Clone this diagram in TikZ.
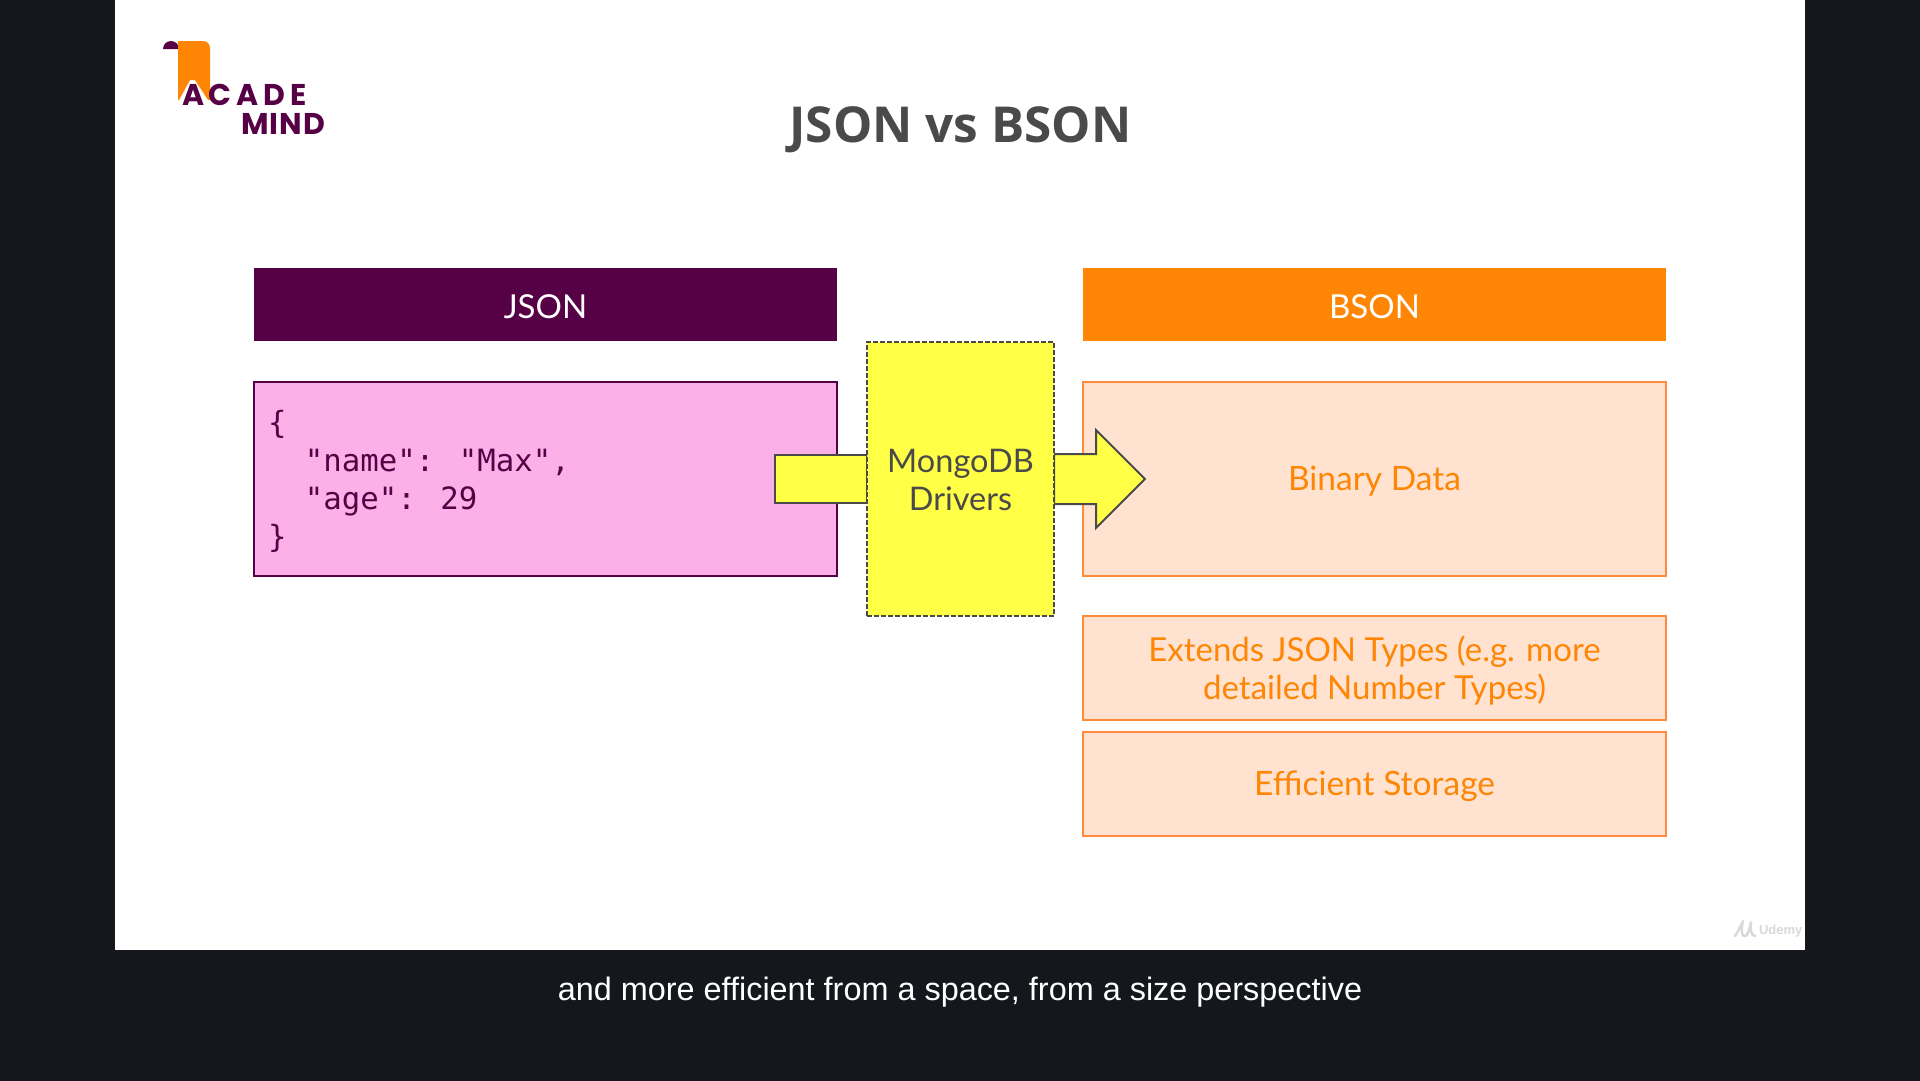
\documentclass[tikz,border=0pt]{standalone}
\usepackage{fontspec}
\usepackage{xcolor}
\usetikzlibrary{
  positioning,
  shapes.arrows
}
\setmainfont{Lato}
\newfontfamily\titlefont{Open Sans}
\newfontfamily\codefont{DejaVu Sans Mono}
\newfontfamily\capfont{Liberation Sans}
\newfontfamily\logofonta[LetterSpace=16]{Poppins}
\newfontfamily\logofontb[LetterSpace=4]{Poppins}
\definecolor{slidebg}{HTML}{14171C}
\definecolor{plum}{HTML}{560046}
\definecolor{tangerine}{HTML}{FF8605}
\definecolor{pinkfill}{HTML}{FBB1E8}
\definecolor{peachfill}{HTML}{FFE3D0}
\definecolor{peachline}{HTML}{FF8B3A}
\definecolor{lemon}{HTML}{FFFF45}
\definecolor{slate}{HTML}{4A4A4A}

\begin{document}
\begin{tikzpicture}[
    x=1pt, y=-1pt,
    every node/.style = {shape=rectangle, align=center, inner sep=0pt, outer sep=0pt},
    head/.style = {minimum width=583pt, minimum height=73pt, text=white, text height=27pt, text depth=0pt,
      font=\fontsize{33}{38}\selectfont},
    bsonbox/.style = {draw=peachline, line width=1.8pt, fill=peachfill, text=tangerine,
      minimum width=583pt, font=\fontsize{33.5}{38}\selectfont},
    blockline/.style = {draw=slate, line width=2pt, fill=lemon}]
    \useasboundingbox (0,0) rectangle (1920,1080);
    % page and slide
    \fill[slidebg] (-5,-5) rectangle (1925,1085);
    \fill[white] (115,0) rectangle (1805,950);
    % logo
    \fill[plum] (163,49) arc[start angle=180, end angle=0, x radius=8pt, y radius=8pt] -- cycle;
    \fill[tangerine] (178,41) -- (198,41) [rounded corners=7pt] -- (210,41) [sharp corners] -- (210,100)
      -- (208,100) -- (195,80) -- (190,80) -- (179,100) -- (178,100) -- cycle;
    \node[anchor=base west, text=plum, font=\logofonta\fontsize{30}{30}\selectfont\bfseries] (logoa) at (182,105) {ACADE};
    \node[anchor=base west, text=plum, font=\logofontb\fontsize{30}{30}\selectfont\bfseries] (logob) at (241,134) {MIND};
    % title
    \node[text=slate, font=\titlefont\fontsize{49.5}{52}\selectfont\bfseries] (title) at (960.5,130) {JSON vs BSON};
    % left column
    \node[head, fill=plum, anchor=north west] (jsonhead) at (254,268) {JSON};
    \node[draw=plum, line width=2pt, fill=pinkfill, minimum width=583pt, minimum height=194pt,
      below=41pt of jsonhead] (jsonbody) {};
    \node[anchor=west, align=left, text=plum, font=\codefont\fontsize{30.7}{38}\selectfont] (jsoncode)
      at (268,481.5) {\{\\\ \ "name": "Max",\\\ \ "age": 29\\\}};
    % right column
    \node[head, fill=tangerine, anchor=north west] (bsonhead) at (1083,268) {BSON};
    \node[bsonbox, minimum height=194pt, text depth=2pt, below=41pt of bsonhead] (binary) {Binary Data};
    \node[bsonbox, minimum height=104pt, below=40pt of binary, font=\fontsize{33}{38}\selectfont] (types)
      {\rule{0pt}{31pt}Extends JSON Types (e.g. more\\detailed Number Types)};
    \node[bsonbox, minimum height=104pt, text depth=2pt, below=12pt of types] (storage) {Efficient Storage};
    % arrows and drivers
    \node[blockline, anchor=west, minimum width=92pt, minimum height=48pt] (arrowin) at (775,479) {};
    \node[blockline, single arrow, anchor=west, inner sep=24pt, minimum height=91pt, minimum width=96pt,
      single arrow head extend=24pt, single arrow tip angle=90, inner xsep=0pt] (arrowout) at (1054,479) {};
    \node[draw=slate, line width=1.8pt, dash pattern=on 5pt off 2pt, fill=lemon, text=slate, minimum width=187pt, minimum height=274pt,
      anchor=north west, font=\fontsize{32.5}{38}\selectfont] (drivers) at (867,342) {\rule{0pt}{26pt}MongoDB\\Drivers};
    % footer
    \draw[black!15, line width=2.5pt, line cap=round] (1735,936) .. controls (1739,930) and (1741,925) .. (1743,921)
      (1743,921) .. controls (1741,928) and (1741,938) .. (1746,936)
      (1746,936) .. controls (1749,932) and (1750,927) .. (1751,922)
      (1751,922) .. controls (1750,928) and (1751,936) .. (1755,936);
    \node[text=black!15, anchor=west, font=\capfont\fontsize{13}{13}\selectfont\bfseries] (udemy) at (1759,931) {Udemy};
    \node[text=white, font=\capfont\fontsize{32.4}{36}\selectfont] (caption) at (960,992) {and more efficient from a space, from a size perspective};
\end{tikzpicture}
\end{document}
